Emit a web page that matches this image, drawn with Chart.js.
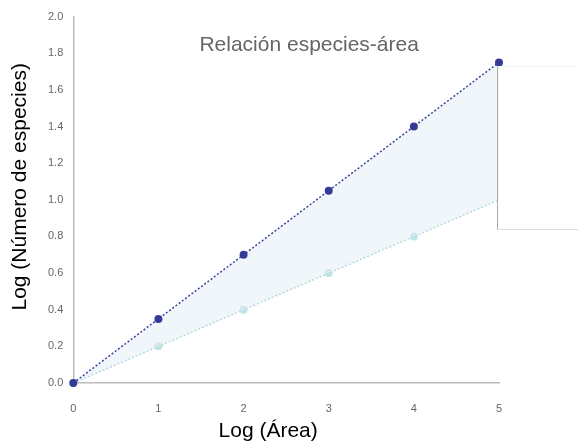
<!DOCTYPE html>
<html><head><meta charset="utf-8">
<script src="https://cdn.jsdelivr.net/npm/chart.js@4/dist/chart.umd.min.js"></script>
<style>html,body{margin:0;padding:0;background:#fff}#wrap{width:579px;height:443px}</style>
</head><body><div id="wrap"><canvas id="c"></canvas></div>
<script>
const logArea = [0, 1, 2, 3, 4, 5];
const upperSeries = [0, 0.35, 0.7, 1.05, 1.4, 1.75];
const lowerSeries = [0, 0.2, 0.4, 0.6, 0.8, 1.0];
const chartTitle = 'Relación especies-área';
const xTitle = 'Log (Área)';
const yTitle = 'Log (Número de especies)';

const FONT = '"Liberation Sans", Arial, sans-serif';

const texts = {
  id: 'texts',
  afterDraw(chart) {
    const {ctx, chartArea, scales} = chart;
    const midX = (chartArea.left + chartArea.right) / 2;
    const midY = (chartArea.top + chartArea.bottom) / 2;
    ctx.save();
    ctx.textAlign = 'center';
    ctx.textBaseline = 'middle';
    ctx.font = '21px ' + FONT;
    ctx.fillStyle = '#666';
    ctx.fillText(chartTitle, midX + 23, chartArea.top + 29);
    ctx.fillStyle = '#000';
    ctx.fillText(xTitle, midX - 18, scales.x.bottom - 12);
    ctx.save();
    ctx.translate(scales.y.left + 12.5, midY - 13);
    ctx.rotate(-Math.PI / 2);
    ctx.fillText(yTitle, 0, 0);
    ctx.restore();
    // empty box at right
    const x0 = Math.round(scales.x.getPixelForValue(5)) - 1.5;
    const yT = Math.round(scales.y.getPixelForValue(1.728)) + 0.5;
    const yB = Math.round(scales.y.getPixelForValue(0.837)) - 0.5;
    const xR = chart.width - 1;
    ctx.lineWidth = 1;
    ctx.strokeStyle = '#f2f2f2';
    ctx.beginPath(); ctx.moveTo(x0, yT); ctx.lineTo(xR, yT); ctx.stroke();
    ctx.strokeStyle = '#dddddd';
    ctx.beginPath(); ctx.moveTo(x0, yB); ctx.lineTo(xR, yB); ctx.stroke();
    ctx.strokeStyle = '#aaaaaa';
    ctx.beginPath(); ctx.moveTo(x0, yT); ctx.lineTo(x0, yB); ctx.stroke();
    ctx.restore();
  }
};

new Chart(document.getElementById('c'), {
  type: 'line',
  data: {
    labels: logArea,
    datasets: [
      {
        data: logArea.map((x, i) => ({x, y: upperSeries[i]})),
        borderColor: '#3f3f9e',
        backgroundColor: 'rgba(225,238,244,0.5)',
        pointBackgroundColor: '#363a97',
        pointBorderWidth: 0,
        pointRadius: 4,
        borderWidth: 1.5,
        borderDash: [2, 2],
        fill: '+1',
        clip: false
      },
      {
        data: logArea.map((x, i) => ({x, y: lowerSeries[i]})),
        borderColor: '#a9d4d6',
        backgroundColor: '#b8e0e2',
        pointBackgroundColor: '#bfe3e4',
        pointBorderWidth: 0,
        pointRadius: ctx => (ctx.dataIndex === logArea.length - 1 ? 0 : 4),
        borderWidth: 1.5,
        borderDash: [2, 2],
        fill: false,
        clip: false
      }
    ]
  },
  plugins: [texts],
  options: {
    responsive: true,
    maintainAspectRatio: false,
    animation: false,
    layout: {padding: {top: 8, right: 80, left: 8, bottom: 0}},
    plugins: {legend: {display: false}, tooltip: {enabled: false}, title: {display: false}},
    scales: {
      x: {
        type: 'linear', min: 0, max: 5,
        grid: {display: false, drawTicks: false},
        border: {color: '#bbbbbb', width: 1.5},
        afterFit: s => { s.height = 60; },
        ticks: {stepSize: 1, color: '#666', font: {size: 11, family: FONT}, padding: 19},
        title: {display: true, text: xTitle, color: 'rgba(0,0,0,0)', font: {size: 20, family: FONT}, padding: {top: 0, bottom: 0}}
      },
      y: {
        type: 'linear', min: 0, max: 2,
        grid: {display: false, drawTicks: false},
        border: {color: '#bbbbbb', width: 1.5},
        ticks: {stepSize: 0.2, color: '#666', font: {size: 11, family: FONT}, padding: 10, callback: v => v.toFixed(1)},
        title: {display: true, text: yTitle, color: 'rgba(0,0,0,0)', font: {size: 20, family: FONT}, padding: {top: 0, bottom: 6}}
      }
    }
  }
});
</script></body></html>
